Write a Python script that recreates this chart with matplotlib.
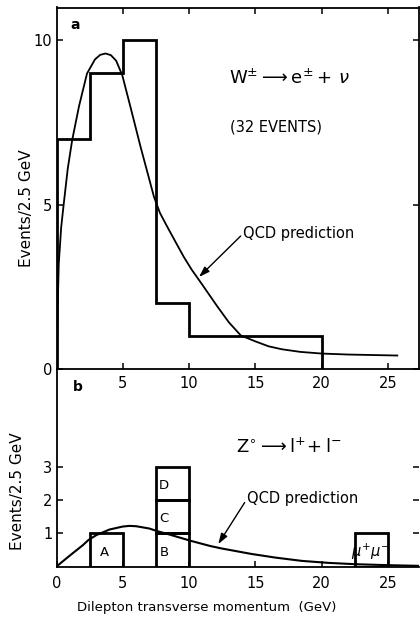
import matplotlib
matplotlib.use("Agg")
import matplotlib.pyplot as plt

# panel a: W -> e nu, 2.5 GeV bins
w_edges = [0, 2.5, 5, 7.5, 10, 12.5, 15, 17.5, 20]
w_counts = [7, 9, 10, 2, 1, 1, 1, 1]

qcd_w_x = [0.0, 0.05, 0.17, 0.35, 0.55, 0.85, 1.18, 1.7, 2.3, 2.9, 3.3, 3.7, 4.1,
           4.5, 4.96, 5.58, 6.34, 7.35, 7.8, 8.35, 9.0, 9.6, 10.2, 10.9, 11.5,
           12.1, 13.0, 13.9, 15.0, 16.0, 17.0, 18.4, 20.0, 22.0, 25.7]
qcd_w_y = [0.0, 1.2, 3.2, 4.3, 5.04, 6.1, 6.96, 8.0, 8.99, 9.42, 9.56, 9.6, 9.55,
           9.38, 8.94, 7.97, 6.76, 5.24, 4.75, 4.33, 3.85, 3.41, 3.02, 2.62, 2.27,
           1.92, 1.42, 1.02, 0.84, 0.69, 0.6, 0.52, 0.47, 0.44, 0.41]

# panel b: Z -> l+ l- events, stacked boxes
z_left = [2.5, 7.5, 7.5, 7.5, 22.5]
z_bottom = [0, 0, 1, 2, 0]
z_height = [1, 1, 1, 1, 1]
z_names = ["A", "B", "C", "D", r"$\mu^{+}\mu^{-}$"]

qcd_z_x = [0, 1, 2, 2.4, 3, 4, 5, 5.5, 6, 7, 7.6, 8.5, 10.1, 11.6, 12.4, 14.7,
           16.5, 18.5, 20.5, 22.5, 25, 27.3]
qcd_z_y = [0, 0.33, 0.65, 0.8, 0.95, 1.12, 1.21, 1.23, 1.22, 1.15, 1.07, 0.97,
           0.78, 0.62, 0.55, 0.38, 0.27, 0.17, 0.11, 0.07, 0.04, 0.02]

W, H = 420, 622
fig = plt.figure(figsize=(W / 100, H / 100), dpi=100)
plt.rcParams["font.family"] = "DejaVu Sans"

x0, x1 = 56.5, 418.5
ax1 = fig.add_axes([x0 / W, 1 - 369 / H, (x1 - x0) / W, (369 - 7.5) / H])
ax2 = fig.add_axes([x0 / W, 1 - 566.5 / H, (x1 - x0) / W, (566.5 - 369) / H])
ax2.patch.set_visible(False)  # keep panel a's tick labels visible

for ax in (ax1, ax2):
    ax.set_xlim(0, 27.3)
    for s in ax.spines.values():
        s.set_linewidth(1.3)
    ax.tick_params(direction="in", length=4, width=1.1, labelsize=10.5)

# ---- panel a
ax1.stairs(w_counts, w_edges, baseline=0, color="black", linewidth=2.0)
ax1.plot(qcd_w_x, qcd_w_y, color="black", linewidth=1.3)
ax1.set_ylim(0, 11)
ax1.set_yticks([0, 5, 10])
ax1.set_xticks([5, 10, 15, 20, 25])
ax1.tick_params(top=True, right=True, bottom=True, pad=3)
ax1.tick_params(axis="x", pad=5)

ax1.text(1.43, 10.46, "a", fontsize=10, fontweight="bold", ha="center", va="center")
ax1.text(13.0, 8.85, r"$\mathrm{W}^{\pm}\longrightarrow\mathrm{e}^{\pm}+\,\nu$",
         fontsize=13, ha="left", va="center")
ax1.text(13.05, 7.36, "(32 EVENTS)", fontsize=10.5, ha="left", va="center")
ax1.annotate("QCD prediction", xy=(10.75, 2.8), xytext=(14.1, 4.13),
             fontsize=10.5, ha="left", va="center",
             arrowprops=dict(arrowstyle="-|>,head_length=0.6,head_width=0.2",
                             color="black", lw=1.0, shrinkA=0, shrinkB=0,
                             relpos=(0, 0.5)))

# ---- panel b
ax2.bar(z_left, z_height, width=2.5, bottom=z_bottom, align="edge",
        fill=False, edgecolor="black", linewidth=2.0)
ax2.plot(qcd_z_x, qcd_z_y, color="black", linewidth=1.5)
name_pos = [(3.6, 0.42), (8.1, 0.43), (8.1, 1.44), (8.1, 2.45), (23.7, 0.45)]
name_size = [9.5, 9.5, 9.5, 9.5, 10.5]
for name, (nx, ny), fs in zip(z_names, name_pos, name_size):
    ax2.text(nx, ny, name, fontsize=fs, ha="center", va="center")

ax2.set_ylim(0, 5.98)
ax2.set_yticks([1, 2, 3])
ax2.set_xticks([0, 5, 10, 15, 20, 25])
ax2.spines["top"].set_visible(False)
ax2.spines["right"].set_visible(False)
ax2.tick_params(right=True, pad=3)
ax2.tick_params(axis="x", pad=7)

ax2.text(1.58, 5.44, "b", fontsize=10, fontweight="bold", ha="center", va="center")
ax2.text(13.5, 3.62, r"$\mathrm{Z}^{\circ}\longrightarrow\mathrm{l}^{+}\!+\mathrm{l}^{-}$",
         fontsize=13, ha="left", va="center")
ax2.annotate("QCD prediction", xy=(12.2, 0.68), xytext=(14.4, 2.07),
             fontsize=10.5, ha="left", va="center",
             arrowprops=dict(arrowstyle="-|>,head_length=0.6,head_width=0.2",
                             color="black", lw=1.0, shrinkA=0, shrinkB=0,
                             relpos=(0, 0.5)))

fig.text(27 / W, 1 - 208 / H, "Events/2.5 GeV", rotation=90, fontsize=11,
         ha="center", va="center")
fig.text(18 / W, 1 - 491 / H, "Events/2.5 GeV", rotation=90, fontsize=11,
         ha="center", va="center")
fig.text(207 / W, 1 - 608 / H, "Dilepton transverse momentum  (GeV)", fontsize=9.5,
         ha="center", va="center")

fig.savefig("out.png", dpi=100)
